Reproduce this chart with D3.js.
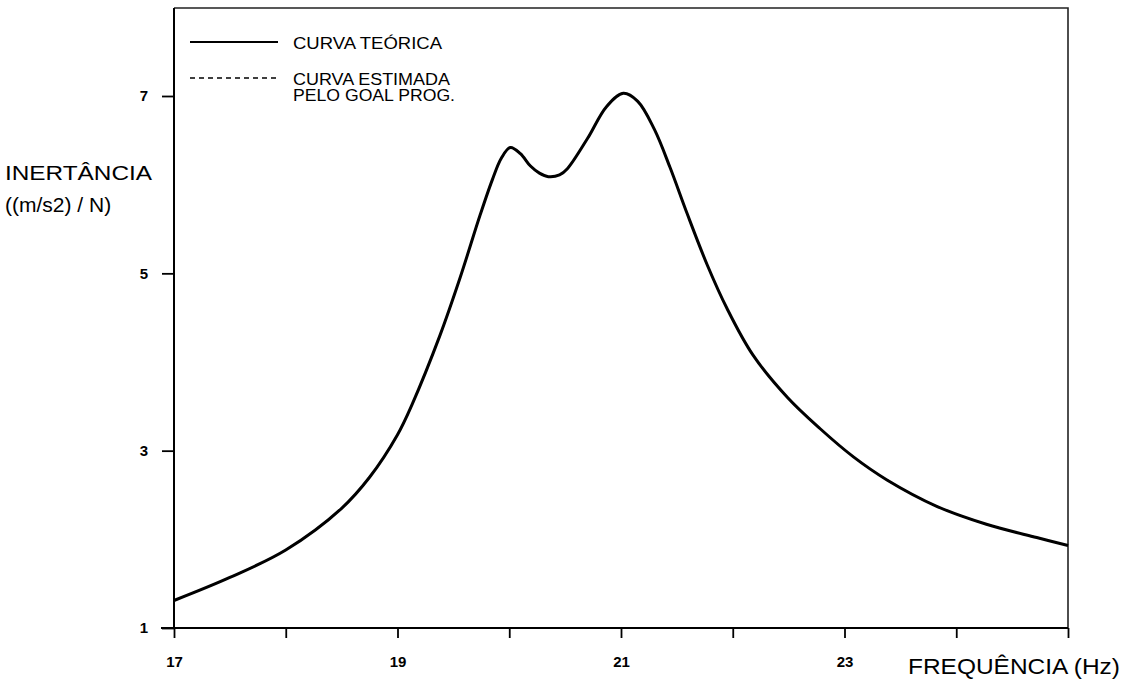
<!DOCTYPE html>
<html>
<head>
    <meta charset="utf-8">
    <script src="https://cdn.jsdelivr.net/npm/d3@7"></script>
    <title>Inertancia</title>
    <style>
        * { margin: 0; padding: 0; }
        body { background: #fff; }
        svg { display: block; font-family: "Liberation Sans", Arial, sans-serif; }
    </style>
</head>
<body>
    <div id="chart"></div>
    <script>
        // frequencia (Hz) e inertancia ((m/s2)/N)
        var freq = [17, 17.5, 18, 18.5, 18.75, 19, 19.13, 19.38, 19.56, 19.74, 19.85, 19.93, 20.01,
            20.1, 20.19, 20.27, 20.35, 20.45, 20.52, 20.7, 20.87, 21.02, 21.15, 21.3, 21.44, 21.59,
            21.77, 21.95, 22.18, 22.49, 22.78, 23.08, 23.38, 23.83, 24.27, 24.72, 25];
        var teorica = [1.31, 1.57, 1.88, 2.35, 2.7, 3.18, 3.52, 4.3, 4.95, 5.66, 6.06, 6.3, 6.42,
            6.35, 6.21, 6.13, 6.09, 6.11, 6.18, 6.52, 6.88, 7.03, 6.94, 6.62, 6.19, 5.68,
            5.1, 4.6, 4.08, 3.6, 3.25, 2.93, 2.67, 2.37, 2.17, 2.02, 1.93];
        // curva estimada coincide visualmente com a teorica
        var estimada = [1.31, 1.57, 1.88, 2.35, 2.7, 3.18, 3.52, 4.3, 4.95, 5.66, 6.06, 6.3, 6.42,
            6.35, 6.21, 6.13, 6.09, 6.11, 6.18, 6.52, 6.88, 7.03, 6.94, 6.62, 6.19, 5.68,
            5.1, 4.6, 4.08, 3.6, 3.25, 2.93, 2.67, 2.37, 2.17, 2.02, 1.93];
        var xTicks = [17, 18, 19, 20, 21, 22, 23, 24, 25];
        var xLabels = ["17", "", "19", "", "21", "", "23", "", ""];
        var yTicks = [1, 3, 5, 7];
        var legendLabels = [["CURVA TEÓRICA"], ["CURVA ESTIMADA", "PELO  GOAL PROG."]];
        var legendWidths = [[149], [157, 162]];

        var W = 1125, H = 679;
        var pLeft = 174, pRight = 1068, pTop = 8, pBottom = 628;

        var svg = d3.select("#chart").append("svg")
            .attr("width", W)
            .attr("height", H);

        var xScale = d3.scaleLinear().domain([17, 25]).range([pLeft, pRight]);
        var yScale = d3.scaleLinear().domain([1, 7]).range([pBottom, 96]);

        // moldura (topo e direita)
        svg.append("path")
            .attr("d", "M" + pLeft + "," + pTop + "H" + pRight + "V" + pBottom)
            .attr("fill", "none")
            .attr("stroke", "#222")
            .attr("stroke-width", 1.6);

        var xAxis = svg.append("g")
            .attr("transform", "translate(0," + pBottom + ")")
            .call(d3.axisBottom(xScale)
                .tickValues(xTicks)
                .tickFormat(function (d, i) { return xLabels[i]; })
                .tickSizeInner(10)
                .tickSizeOuter(0)
                .tickPadding(18));
        xAxis.select(".domain").remove();
        xAxis.append("line")
            .attr("x1", 161).attr("x2", pRight)
            .attr("stroke", "#000").attr("stroke-width", 2);

        var yAxis = svg.append("g")
            .attr("transform", "translate(" + pLeft + ",0)")
            .call(d3.axisLeft(yScale)
                .tickValues(yTicks)
                .tickFormat(d3.format("d"))
                .tickSizeInner(12)
                .tickSizeOuter(0)
                .tickPadding(14));
        yAxis.select(".domain").remove();
        yAxis.append("line")
            .attr("y1", pTop).attr("y2", pBottom)
            .attr("stroke", "#000").attr("stroke-width", 2);

        svg.selectAll(".tick line").attr("stroke", "#000").attr("stroke-width", 1.8);
        svg.selectAll(".tick text")
            .attr("fill", "#000")
            .style("font-size", "15px")
            .style("font-weight", "bold");

        var line = d3.line()
            .x(function (d) { return xScale(d[0]); })
            .y(function (d) { return yScale(d[1]); })
            .curve(d3.curveCatmullRom.alpha(0.5));

        svg.append("path")
            .datum(freq.map(function (f, i) { return [f, teorica[i]]; }))
            .attr("d", line)
            .attr("fill", "none")
            .attr("stroke", "#000")
            .attr("stroke-width", 3);

        svg.append("path")
            .datum(freq.map(function (f, i) { return [f, estimada[i]]; }))
            .attr("d", line)
            .attr("fill", "none")
            .attr("stroke", "#000")
            .attr("stroke-width", 1.5)
            .attr("stroke-dasharray", "5,4");

        // legenda
        var legY = [42, 78];
        legendLabels.forEach(function (lab, i) {
            svg.append("line")
                .attr("x1", 190).attr("x2", 278)
                .attr("y1", legY[i]).attr("y2", legY[i])
                .attr("stroke", "#000")
                .attr("stroke-width", i == 0 ? 2 : 1.5)
                .attr("stroke-dasharray", i == 0 ? null : "5,4");
            lab.forEach(function (t, j) {
                svg.append("text")
                    .attr("x", 293)
                    .attr("y", legY[i] + 7 + j * 16)
                    .attr("textLength", legendWidths[i][j])
                    .attr("lengthAdjust", "spacingAndGlyphs")
                    .style("font-size", "16px")
                    .text(t);
            });
        });

        // titulos dos eixos
        svg.append("text")
            .attr("x", 5).attr("y", 180)
            .attr("textLength", 147)
            .attr("lengthAdjust", "spacingAndGlyphs")
            .style("font-size", "21px")
            .text("INERTÂNCIA");
        svg.append("text")
            .attr("x", 5).attr("y", 212)
            .style("font-size", "21px")
            .text("((m/s2) / N)");
        svg.append("text")
            .attr("x", 908).attr("y", 674)
            .attr("textLength", 212)
            .attr("lengthAdjust", "spacingAndGlyphs")
            .style("font-size", "22px")
            .text("FREQUÊNCIA (Hz)");
    </script>
</body>
</html>
